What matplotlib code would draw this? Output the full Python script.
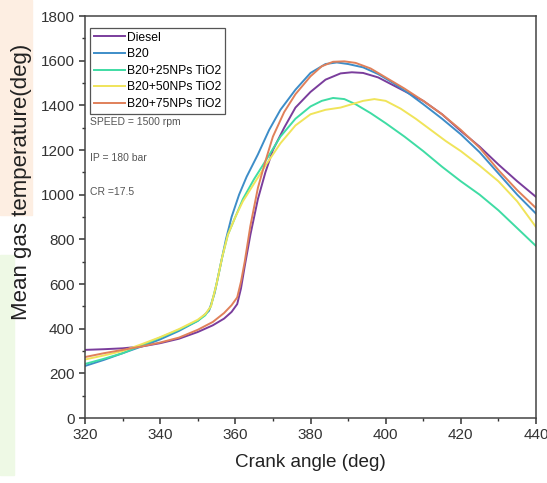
import matplotlib
matplotlib.use('Agg')
import matplotlib.pyplot as plt
from matplotlib.patches import Rectangle
from matplotlib.ticker import MultipleLocator

plt.rcParams['font.family'] = ['Liberation Sans', 'DejaVu Sans']

# crank angle (deg) / mean gas temperature
diesel_x = [320, 325, 330, 335, 340, 345, 350, 354, 357, 359, 360.5, 361.5, 362.5, 364, 366, 368, 370,
            373, 376, 380, 384, 388, 391, 394, 398, 402, 406, 410, 415, 420, 425, 430, 435, 440]
diesel_t = [305, 308, 312, 320, 335, 355, 385, 415, 445, 475, 510, 580, 680, 820, 980, 1100, 1200,
            1300, 1390, 1460, 1515, 1543, 1548, 1545, 1525, 1490, 1455, 1420, 1360, 1285, 1215, 1135, 1060, 990]

b20_x = [320, 325, 330, 335, 340, 345, 350, 353, 354.5, 356, 357.5, 359, 361, 363, 366, 369, 372,
         376, 380, 384, 387, 390, 394, 398, 402, 406, 410, 415, 420, 425, 430, 435, 440]
b20_t = [233, 260, 290, 320, 352, 390, 435, 480, 560, 680, 800, 900, 1000, 1080, 1180, 1290, 1380,
         1470, 1545, 1585, 1592, 1585, 1570, 1540, 1500, 1455, 1405, 1340, 1270, 1190, 1095, 1000, 915]

np25_x = [320, 325, 330, 335, 340, 345, 350, 352, 353.5, 355, 356.5, 358, 360, 362, 365, 368, 372,
          376, 380, 383, 386, 389, 392, 396, 400, 405, 410, 415, 420, 425, 430, 435, 440]
np25_t = [242, 265, 290, 325, 360, 395, 435, 460, 500, 600, 720, 820, 900, 980, 1070, 1150, 1260,
          1340, 1395, 1420, 1433, 1428, 1405, 1365, 1320, 1260, 1195, 1125, 1060, 1000, 930, 850, 770]

np50_x = [320, 325, 330, 335, 340, 345, 350, 352, 353.5, 355, 356.5, 358, 360, 362, 365, 368, 372,
          376, 380, 384, 388, 391, 394, 397, 400, 404, 408, 412, 416, 420, 425, 430, 435, 440]
np50_t = [262, 280, 300, 330, 362, 398, 440, 465, 500, 600, 720, 820, 900, 970, 1050, 1130, 1230,
          1310, 1360, 1380, 1390, 1405, 1420, 1428, 1420, 1385, 1340, 1290, 1240, 1195, 1130, 1060, 970, 855]

np75_x = [320, 325, 330, 335, 340, 345, 350, 354, 357, 359, 360.5, 361.5, 362.5, 364, 366, 368, 370,
          373, 376, 380, 383, 386, 389, 392, 396, 400, 405, 410, 415, 420, 425, 430, 435, 440]
np75_t = [273, 290, 305, 320, 338, 360, 395, 430, 470, 505, 540, 610, 700, 860, 1030, 1150, 1260,
          1370, 1450, 1530, 1575, 1595, 1597, 1590, 1565, 1525, 1475, 1420, 1360, 1290, 1210, 1110, 1020, 940]

labels = ['Diesel', 'B20', 'B20+25NPs TiO2', 'B20+50NPs TiO2', 'B20+75NPs TiO2']
colors = ['#7a3d9c', '#3d8dc8', '#3fdca4', '#f0e45a', '#e0805a']

fig = plt.figure(figsize=(5.47, 4.83), dpi=100)
# tinted strips at left edge of the screenshot (behind everything)
fig.patches.append(Rectangle((0, 1 - 215 / 483), 32 / 547, 215 / 483, transform=fig.transFigure,
                             color='#fdeee2', zorder=-10))
fig.patches.append(Rectangle((0, 1 - 475 / 483), 14 / 547, 220 / 483, transform=fig.transFigure,
                             color='#eef9e5', zorder=-10))

ax = fig.add_axes([85 / 547, 1 - 418 / 483, 451 / 547, 402 / 483])
series = [(diesel_x, diesel_t), (b20_x, b20_t), (np25_x, np25_t), (np50_x, np50_t), (np75_x, np75_t)]
for (xs, ts), lab, c in zip(series, labels, colors):
    ax.plot(xs, ts, color=c, lw=1.4, label=lab)

ax.set_xlim(320, 440)
ax.set_ylim(0, 1800)
ax.xaxis.set_major_locator(MultipleLocator(20))
ax.xaxis.set_minor_locator(MultipleLocator(10))
ax.yaxis.set_major_locator(MultipleLocator(200))
ax.yaxis.set_minor_locator(MultipleLocator(100))
ax.tick_params(which='major', direction='out', length=4, width=1.1, colors='#333333', labelsize=11)
ax.tick_params(which='minor', direction='out', length=2.5, width=1, colors='#333333')
for s in ax.spines.values():
    s.set_color('#444444')
    s.set_linewidth(1.1)

ax.set_xlabel('Crank angle (deg)', fontsize=13.6, color='#222222')
ax.set_ylabel('Mean gas temperature(deg)', fontsize=16, color='#222222')
ax.xaxis.set_label_coords(0.5, -0.09)
ax.yaxis.set_label_coords(-0.118, 0.587)

leg = ax.legend(loc='upper left', bbox_to_anchor=(0.011, 0.97), borderaxespad=0, fontsize=8.7,
                handlelength=2.6, handletextpad=0.2, labelspacing=0.38, borderpad=0.3,
                fancybox=False, edgecolor='#555555', framealpha=1)
leg.get_frame().set_linewidth(0.9)

for y, txt in [(0.736, 'SPEED = 1500 rpm'), (0.647, 'IP = 180 bar'), (0.562, 'CR =17.5')]:
    ax.text(0.011, y, txt, transform=ax.transAxes, fontsize=7.5, color='#555555', va='center')

fig.savefig('out.png', dpi=100)
